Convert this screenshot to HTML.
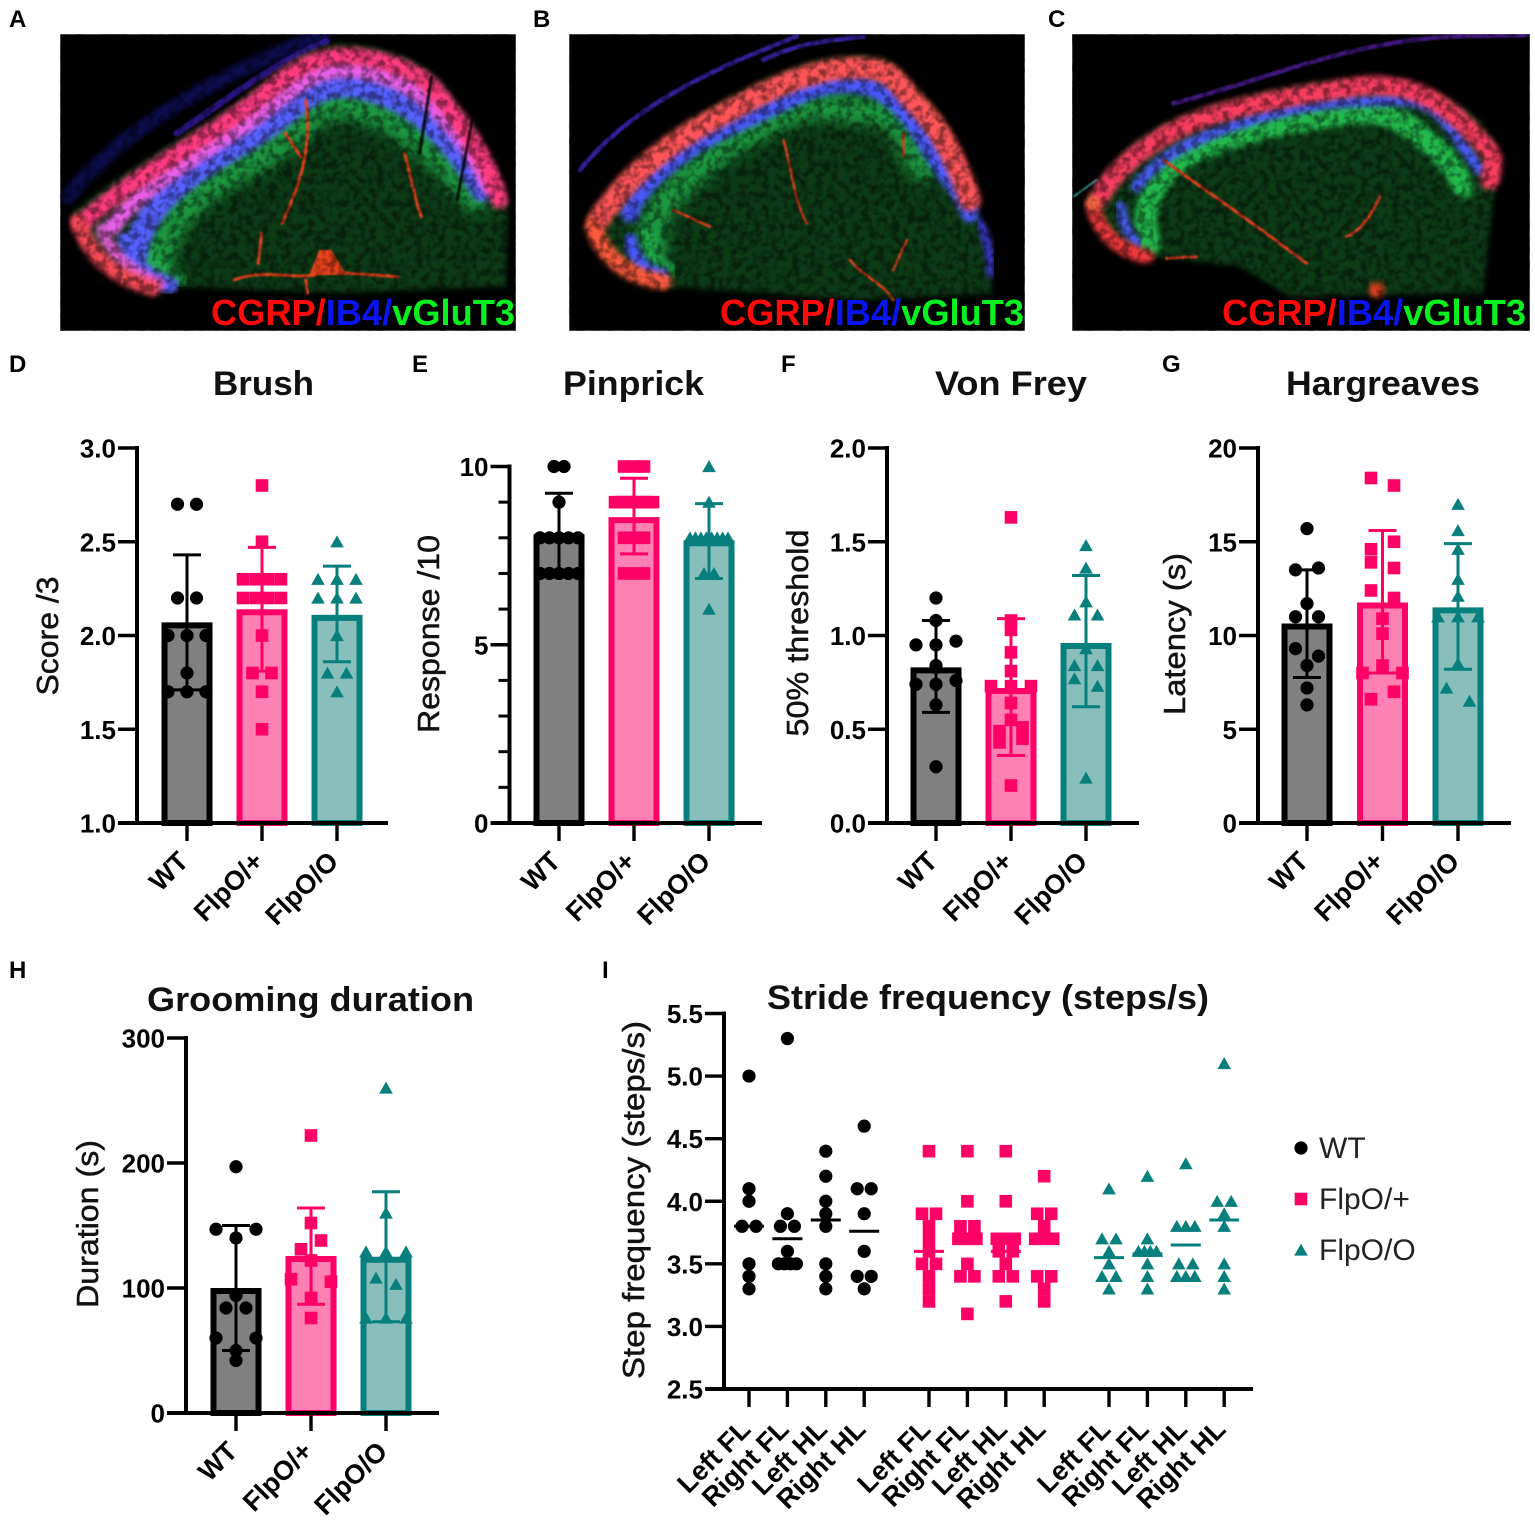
<!DOCTYPE html>
<html lang="en">
<head>
<meta charset="utf-8">
<title>Behavioural and histology figure</title>
<style>
html,body{margin:0;padding:0;background:#fff}
svg{display:block;font-family:"Liberation Sans",Arial,sans-serif}
</style>
</head>
<body>
<svg id="fig" xmlns="http://www.w3.org/2000/svg" width="1535" height="1528" viewBox="0 0 1535 1528">
<defs>
<filter id="b1" x="-20%" y="-20%" width="140%" height="140%"><feGaussianBlur stdDeviation="2"/></filter>
<filter id="b6" x="-20%" y="-20%" width="140%" height="140%"><feGaussianBlur stdDeviation="9"/></filter>
<filter id="b12" x="-20%" y="-20%" width="140%" height="140%"><feGaussianBlur stdDeviation="18"/></filter>
<filter id="speck" x="0" y="0" width="100%" height="100%">
<feTurbulence type="fractalNoise" baseFrequency="0.13" numOctaves="2" seed="4"/>
<feColorMatrix values="0 0 0 0 0  0 0 0 0 0  0 0 0 0 0  3.4 0 0 0 -1.35"/>
</filter>
<clipPath id="clipA"><rect x="60" y="34" width="456" height="297"/></clipPath>
<clipPath id="clipB"><rect x="569" y="34" width="456" height="297"/></clipPath>
<clipPath id="clipC"><rect x="1072" y="34" width="458" height="297"/></clipPath>
</defs>
<rect width="1535" height="1528" fill="#fff"/>

<g clip-path="url(#clipA)">
<rect x="60" y="34" width="456" height="297" fill="#000" stroke="#999"/>
<g transform="scale(0.3398,0.3333)" fill="none" stroke-linecap="round" stroke-linejoin="round">
<path d="M200,590 C350,400 600,240 950,105" stroke="#2222c8" stroke-width="44" opacity=".4" filter="url(#b6)"/>
<path d="M520,400 C640,320 800,190 960,125" stroke="#4424d8" stroke-width="20" opacity=".6" filter="url(#b1)"/>
<path d="M210,640 C350,520 500,440 650,340 S850,170 950,140 S1230,170 1290,240 S1450,450 1495,620 L1490,860 L1000,880 L520,860 C400,860 280,790 210,640Z" fill="#0a3a12" filter="url(#b6)"/>
<path d="M460,810 C470,660 590,560 740,480 S890,340 960,320 S1140,340 1200,390 S1310,480 1400,590" stroke="#20b850" stroke-width="90" opacity=".75" filter="url(#b12)"/>
<path d="M440,740 C440,790 470,820 530,840" stroke="#20b850" stroke-width="40" opacity=".7" filter="url(#b6)"/>
<path d="M400,760 C420,610 560,520 710,430 S880,290 960,265 S1160,285 1230,340 S1350,450 1420,570" stroke="#5560ff" stroke-width="70" filter="url(#b6)"/>
<path d="M370,720 C380,780 420,830 500,855" stroke="#5560ff" stroke-width="50" filter="url(#b6)"/>
<path d="M330,680 C410,570 540,490 680,400 S870,240 960,215 S1190,235 1255,300 S1390,440 1440,560" stroke="#e860e8" stroke-width="52" filter="url(#b6)"/>
<path d="M240,670 C360,560 510,470 660,370 S850,200 955,175 S1220,200 1275,265 S1430,460 1470,600" stroke="#ff3a80" stroke-width="52" filter="url(#b6)"/>
<path d="M300,690 C330,770 390,820 470,850" stroke="#e860d8" stroke-width="36" filter="url(#b6)"/>
<path d="M230,665 C260,760 330,830 450,865" stroke="#f84a58" stroke-width="46" filter="url(#b6)"/>
<path d="M900,300 C920,450 880,560 830,670 M690,840 C780,800 880,850 960,815 L1170,830 M770,700 L760,790 M900,840 L905,880 M840,400 L885,470 M1190,460 C1210,530 1220,600 1240,650" stroke="#e8421c" stroke-width="9" filter="url(#b1)"/>
<polygon points="940,750 975,750 1020,825 910,825" fill="#e8421c" filter="url(#b1)"/>
<path d="M1270,230 L1235,460 M1390,360 L1345,600" stroke="#000" stroke-width="9" opacity=".8" filter="url(#b1)"/>
</g>
<rect x="60" y="34" width="456" height="297" filter="url(#speck)" opacity=".42"/>
</g>
<text x="211" y="325" font-size="36" font-weight="700" textLength="304" lengthAdjust="spacingAndGlyphs"><tspan fill="#ff0a0a">CGRP/</tspan><tspan fill="#0a14f0">IB4/</tspan><tspan fill="#08f020">vGluT3</tspan></text>

<g clip-path="url(#clipB)">
<rect x="569" y="34" width="456" height="297" fill="#000" stroke="#999"/>
<g transform="translate(530,0) scale(0.3333,0.3333)" fill="none" stroke-linecap="round" stroke-linejoin="round">
<path d="M150,510 C300,320 560,200 800,110 M700,180 C800,130 900,120 1000,110" stroke="#4a2ad0" stroke-width="14" opacity=".75" filter="url(#b1)"/>
<path d="M175,660 C250,550 380,420 520,340 S800,180 950,170 S1100,210 1180,290 S1300,500 1340,620 L1390,880 L1000,900 L400,860 C280,830 200,760 175,660Z" fill="#0a3a12" filter="url(#b6)"/>
<path d="M370,740 C340,640 470,510 650,400 S850,320 1000,330 S1100,400 1180,500" stroke="#20b850" stroke-width="85" opacity=".75" filter="url(#b12)"/>
<path d="M350,700 C350,760 380,800 420,810" stroke="#20b850" stroke-width="50" opacity=".7" filter="url(#b6)"/>
<path d="M300,640 C320,550 480,430 620,370 S850,250 950,250 S1120,310 1190,430 S1290,560 1320,640" stroke="#4a58ff" stroke-width="54" filter="url(#b6)"/>
<path d="M300,720 C310,780 350,820 400,825" stroke="#4a58ff" stroke-width="40" filter="url(#b6)"/>
<path d="M205,660 C285,540 400,440 530,370 S800,215 950,205 S1090,245 1165,320 S1285,500 1320,600" stroke="#ff5458" stroke-width="66" filter="url(#b6)"/>
<path d="M190,680 C220,770 290,830 400,845" stroke="#ff5a3c" stroke-width="50" filter="url(#b6)"/>
<path d="M1350,670 C1370,720 1385,760 1385,820" stroke="#3c3cd8" stroke-width="26" filter="url(#b6)"/>
<path d="M760,420 C790,520 790,600 830,670 M430,630 L540,680 M960,780 C1000,830 1060,850 1090,900 M1130,720 L1090,810 M1120,400 L1120,470" stroke="#d8401e" stroke-width="8" filter="url(#b1)"/>
</g>
<rect x="569" y="34" width="456" height="297" filter="url(#speck)" opacity=".42"/>
</g>
<text x="720" y="325" font-size="36" font-weight="700" textLength="304" lengthAdjust="spacingAndGlyphs"><tspan fill="#ff0a0a">CGRP/</tspan><tspan fill="#0a14f0">IB4/</tspan><tspan fill="#08f020">vGluT3</tspan></text>

<g clip-path="url(#clipC)">
<rect x="1072" y="34" width="458" height="297" fill="#000" stroke="#999"/>
<g transform="translate(1040,0) scale(0.3333,0.3333)" fill="none" stroke-linecap="round" stroke-linejoin="round">
<path d="M400,310 C600,260 800,180 1000,140 S1300,110 1460,105" stroke="#5a22b0" stroke-width="14" opacity=".7" filter="url(#b1)"/>
<path d="M100,590 L170,540" stroke="#3aa0a0" stroke-width="6" filter="url(#b1)"/>
<path d="M140,600 C220,480 300,390 450,340 S800,240 950,240 S1200,270 1290,340 S1370,480 1365,560 L1330,880 L750,890 L600,800 L340,770 C220,760 170,690 140,600Z" fill="#0a3a12" filter="url(#b6)"/>
<path d="M330,730 C290,620 350,500 500,440 S750,370 900,345 S1100,370 1170,430 S1250,520 1270,560" stroke="#28d056" stroke-width="66" opacity=".85" filter="url(#b6)"/>
<path d="M290,560 C340,490 420,430 600,370 S900,305 1050,300 S1210,360 1320,510" stroke="#4a5cf8" stroke-width="34" filter="url(#b6)"/>
<path d="M240,620 C250,680 270,710 295,730" stroke="#4a5cf8" stroke-width="30" filter="url(#b6)"/>
<path d="M180,590 C230,500 330,420 450,370 S800,280 950,260 S1200,300 1290,390 S1360,480 1350,540" stroke="#f83e5e" stroke-width="58" filter="url(#b6)"/>
<path d="M160,620 C175,690 230,750 320,770" stroke="#f0383c" stroke-width="44" filter="url(#b6)"/>
<path d="M370,480 C480,560 600,640 800,790 M920,710 C970,690 1000,630 1020,590 M380,775 L470,770" stroke="#e0401e" stroke-width="9" filter="url(#b1)"/>
<circle cx="1010" cy="870" r="24" fill="#e0401e" filter="url(#b6)"/>
<circle cx="160" cy="610" r="22" fill="#ff6a4a" filter="url(#b6)"/>
</g>
<rect x="1072" y="34" width="458" height="297" filter="url(#speck)" opacity=".42"/>
</g>
<text x="1222" y="325" font-size="36" font-weight="700" textLength="304" lengthAdjust="spacingAndGlyphs"><tspan fill="#ff0a0a">CGRP/</tspan><tspan fill="#0a14f0">IB4/</tspan><tspan fill="#08f020">vGluT3</tspan></text>

<g font-size="24" font-weight="700" fill="#000">
<text x="9" y="27">A</text>
<text x="533" y="27">B</text>
<text x="1048" y="27">C</text>
<text x="9" y="372">D</text>
<text x="412" y="372">E</text>
<text x="781" y="372">F</text>
<text x="1162" y="372">G</text>
<text x="9" y="978">H</text>
<text x="602" y="978">I</text>
</g>
<g id="charts"></g>
</svg>

<script>
// ---------- shared categories ----------
const groupLabels = ['WT', 'FlpO/+', 'FlpO/O'];
const legendLabels = ['WT', 'FlpO/+', 'FlpO/O'];
const limbLabels = ['Left FL', 'Right FL', 'Left HL', 'Right HL'];

// ---------- D: Brush ----------
const brushTicks = ['1.0', '1.5', '2.0', '2.5', '3.0'];
const brushMeans = [2.07, 2.14, 2.11];
const brushUpper = [2.43, 2.47, 2.37];
const brushLower = [1.71, 1.81, 1.86];
const brushWT = [2.7, 2.7, 2.2, 2.2, 2.0, 2.0, 2.0, 1.8, 1.7, 1.7, 1.7];
const brushHet = [2.8, 2.5, 2.3, 2.3, 2.3, 2.3, 2.2, 2.2, 2.2, 2.2, 2.0, 1.8, 1.8, 1.7, 1.5];
const brushHom = [2.5, 2.3, 2.3, 2.3, 2.2, 2.2, 2.2, 2.0, 1.8, 1.8, 1.7];

// ---------- E: Pinprick ----------
const pinTicks = ['0', '5', '10'];
const pinMinorTicks = [1, 2, 3, 4, 6, 7, 8, 9];
const pinMeans = [8.1, 8.58, 7.93];
const pinUpper = [9.25, 9.67, 8.96];
const pinLower = [6.9, 7.55, 6.86];
const pinWT = [10, 10, 9, 8, 8, 8, 8, 8, 7, 7, 7, 7, 7];
const pinHet = [10, 10, 10, 9, 9, 9, 9, 9, 9, 9, 9, 8, 8, 8, 7, 7, 7];
const pinHom = [10, 9, 8, 8, 8, 8, 8, 8, 8, 8, 7, 7, 6];

// ---------- F: Von Frey ----------
const frey_Ticks = ['0.0', '0.5', '1.0', '1.5', '2.0'];
const freyMeans = [0.83, 0.72, 0.96];
const freyUpper = [1.08, 1.09, 1.32];
const freyLower = [0.59, 0.36, 0.62];
const freyWT = [1.2, 1.08, 0.95, 0.95, 0.97, 0.84, 0.74, 0.74, 0.76, 0.63, 0.3];
const freyHet = [1.63, 1.08, 1.03, 0.91, 0.81, 0.73, 0.73, 0.73, 0.64, 0.55, 0.49, 0.51, 0.43, 0.45, 0.2];
const freyHom = [1.48, 1.36, 1.18, 1.11, 1.11, 0.93, 0.84, 0.84, 0.77, 0.73, 0.24];

// ---------- G: Hargreaves ----------
const hargTicks = ['0', '5', '10', '15', '20'];
const hargMeans = [10.64, 11.76, 11.5];
const hargUpper = [13.5, 15.6, 14.9];
const hargLower = [7.76, 8.0, 8.2];
const hargWT = [15.7, 13.5, 13.6, 11.7, 11, 11, 9.3, 8.9, 8.4, 7.2, 6.3];
const hargHet = [18.4, 18.0, 14.6, 15.0, 13.9, 13.6, 12.4, 12.0, 10.9, 10.1, 8, 8.4, 8, 6.6, 7];
const hargHom = [17, 15.6, 14.6, 13, 12.1, 11, 11, 11, 8.5, 7.2, 6.5];

// ---------- H: Grooming ----------
const groomTicks = ['0', '100', '200', '300'];
const groomMeans = [100, 125.6, 125];
const groomUpper = [150, 164, 177];
const groomLower = [50, 87, 73];
const groomWT = [197, 147, 140, 147, 94, 84, 84, 60, 50, 60, 42];
const groomHet = [222, 152, 131, 138, 122, 107, 92, 105, 76];
const groomHom = [260, 160, 129, 129, 129, 108, 103, 76, 76, 76];

// ---------- I: Stride frequency ----------
const strideTicks = ['2.5', '3.0', '3.5', '4.0', '4.5', '5.0', '5.5'];
const strideWTLeftFL = [5.0, 4.1, 4.0, 3.8, 3.8, 3.5, 3.4, 3.3];
const strideWTRightFL = [5.3, 3.9, 3.8, 3.8, 3.6, 3.5, 3.5, 3.5, 3.5];
const strideWTLeftHL = [4.4, 4.2, 4.0, 3.9, 3.8, 3.5, 3.4, 3.3];
const strideWTRightHL = [4.6, 4.1, 4.1, 3.9, 3.6, 3.4, 3.4, 3.3];
const strideHetLeftFL = [4.4, 3.9, 3.9, 3.8, 3.7, 3.6, 3.5, 3.5, 3.4, 3.3, 3.2];
const strideHetRightFL = [4.4, 4.0, 3.8, 3.8, 3.7, 3.7, 3.7, 3.5, 3.4, 3.4, 3.1];
const strideHetLeftHL = [4.4, 4.0, 3.7, 3.7, 3.7, 3.6, 3.6, 3.5, 3.4, 3.4, 3.2];
const strideHetRightHL = [4.2, 3.9, 3.9, 3.8, 3.7, 3.7, 3.7, 3.4, 3.4, 3.3, 3.2];
const strideHomLeftFL = [4.1, 3.7, 3.7, 3.6, 3.5, 3.4, 3.4, 3.3];
const strideHomRightFL = [4.2, 3.7, 3.6, 3.6, 3.6, 3.6, 3.5, 3.4, 3.3];
const strideHomLeftHL = [4.3, 3.8, 3.8, 3.8, 3.5, 3.5, 3.4, 3.4, 3.4];
const strideHomRightHL = [5.1, 4.0, 4.0, 3.9, 3.8, 3.5, 3.4, 3.3];
const strideWTMeans = [3.8, 3.7, 3.85, 3.76];
const strideHetMeans = [3.6, 3.7, 3.6, 3.7];
const strideHomMeans = [3.55, 3.58, 3.65, 3.85];

// ---------- helpers ----------
const NS = 'http://www.w3.org/2000/svg';
const root = document.getElementById('charts');
const strokeColors = ['#000000', '#ff0066', '#067f7d'];
const fillColors = ['#808080', '#ff80b2', '#88bfbd'];
const markerKinds = ['circle', 'square', 'triangle'];

function mk(tag, attrs, parent, text) {
  const el = document.createElementNS(NS, tag);
  for (const k in attrs) el.setAttribute(k, attrs[k]);
  if (text !== undefined) el.textContent = text;
  parent.appendChild(el);
  return el;
}

function drawMarker(kind, cx, cy, color, parent) {
  let el;
  if (kind === 'circle') {
    el = mk('circle', {cx: cx, cy: cy, r: 6.6, fill: color}, parent);
  } else if (kind === 'square') {
    el = mk('rect', {x: cx - 6.3, y: cy - 6.3, width: 12.6, height: 12.6, fill: color}, parent);
  } else {
    el = mk('polygon', {points: (cx - 6.8) + ',' + (cy + 5.6) + ' ' + (cx + 6.8) + ',' + (cy + 5.6) + ' ' + cx + ',' + (cy - 6.4), fill: color}, parent);
  }
  
  
  return el;
}

// values sharing a bin are spread side by side, in array order
function swarmOffsets(values, binWidth, spacing, spread) {
  const bins = {};
  values.forEach(function (v, i) {
    const key = Math.round(v / binWidth + 1e-9);
    (bins[key] = bins[key] || []).push(i);
  });
  const offsets = new Array(values.length).fill(0);
  Object.keys(bins).forEach(function (key) {
    const members = bins[key];
    const n = members.length;
    const step = n > 1 ? Math.min(spacing, spread / (n - 1)) : 0;
    members.forEach(function (idx, j) { offsets[idx] = (j - (n - 1) / 2) * step; });
  });
  return offsets;
}

function drawYAxis(g, f, labels, minorValues) {
  const line = mk('line', {x1: f.axisX, x2: f.axisX, y1: f.y(f.max) - 2, y2: f.y0 + 2, stroke: '#000', 'stroke-width': 4}, g);
  
  
  labels.forEach(function (lab) {
    const yy = f.y(parseFloat(lab));
    const tick = mk('line', {x1: f.axisX - 19, x2: f.axisX, y1: yy, y2: yy, stroke: '#000', 'stroke-width': 3.4}, g);
    
    
    const t = mk('text', {x: f.axisX - 21, y: yy + 9.5, 'text-anchor': 'end', 'font-size': 26, 'font-weight': 700}, g, lab);
    
    
  });
  (minorValues || []).forEach(function (v) {
    const yy = f.y(v);
    const tick = mk('line', {x1: f.axisX - 11, x2: f.axisX, y1: yy, y2: yy, stroke: '#000', 'stroke-width': 3}, g);
    
    
  });
}

function drawTitle(g, text, cx, y, len) {
  const t = mk('text', {x: cx, y: y, 'text-anchor': 'middle', 'font-size': 34, 'font-weight': 700, textLength: len, lengthAdjust: 'spacingAndGlyphs', fill: '#111'}, g, text);
  
  
}

function drawYTitle(g, text, x, cy, len) {
  const t = mk('text', {x: x, y: cy, transform: 'rotate(-90 ' + x + ' ' + cy + ')', 'text-anchor': 'middle', 'font-size': 31, textLength: len, lengthAdjust: 'spacingAndGlyphs', fill: '#111', stroke: '#111', 'stroke-width': 0.5}, g, text);
  
  
}

function drawBarChart(c) {
  const g = mk('g', {}, root);
  
  
  const f = {
    axisX: c.axisX, y0: c.y0, max: c.max,
    y: function (v) { return c.y0 - (v - c.min) / (c.max - c.min) * (c.y0 - c.y1); }
  };
  const xc = function (i) { return c.firstX + i * c.stepX; };
  groupLabels.forEach(function (lab, i) {
    const cx = xc(i), top = f.y(c.means[i]);
    const bar = mk('rect', {x: cx - 22.5, y: top + 3, width: 45, height: Math.max(0, c.y0 - top - 3), fill: fillColors[i], stroke: strokeColors[i], 'stroke-width': 6}, g);
    
    

    const yU = f.y(c.upper[i]), yL = f.y(c.lower[i]);
    const stem = mk('line', {x1: cx, x2: cx, y1: yU, y2: yL, stroke: strokeColors[i], 'stroke-width': 3}, g);
    
    
    const capU = mk('line', {x1: cx - 14, x2: cx + 14, y1: yU, y2: yU, stroke: strokeColors[i], 'stroke-width': 3}, g);
    
    
    const capL = mk('line', {x1: cx - 14, x2: cx + 14, y1: yL, y2: yL, stroke: strokeColors[i], 'stroke-width': 3}, g);
    
    

    const vals = c.points[i];
    const offs = swarmOffsets(vals, c.bin, c.spacing, c.spread);
    vals.forEach(function (v, k) {
      drawMarker(markerKinds[i], cx + offs[k], f.y(v), strokeColors[i], g);
    });
  });

  drawYAxis(g, f, c.ticks, c.minor);
  const xAxis = mk('line', {x1: c.axisX - 19, x2: c.xEnd, y1: c.y0, y2: c.y0, stroke: '#000', 'stroke-width': 4}, g);
  
  
  groupLabels.forEach(function (lab, i) {
    const cx = xc(i);
    const tick = mk('line', {x1: cx, x2: cx, y1: c.y0, y2: c.y0 + 18, stroke: '#000', 'stroke-width': 3.4}, g);
    
    
    const lx = cx + 3, ly = c.y0 + 40;
    const t = mk('text', {x: lx, y: ly, transform: 'rotate(-45 ' + lx + ' ' + ly + ')', 'text-anchor': 'end', 'font-size': 27, 'font-weight': 700}, g, lab);
    
    
  });
  drawTitle(g, c.title, c.titleX, c.titleY, c.titleLen);
  drawYTitle(g, c.yTitle, c.yTitleX, c.yTitleY, c.yTitleLen);
}

drawBarChart({name: 'brush-chart', title: 'Brush', titleX: 263.5, titleY: 395, titleLen: 101, yTitle: 'Score /3', yTitleX: 58, yTitleY: 636, yTitleLen: 119,
  axisX: 137, y0: 823, y1: 448, min: 1, max: 3, xEnd: 388, firstX: 187, stepX: 75, bin: 0.1, spacing: 19, spread: 38,
  ticks: brushTicks, means: brushMeans, upper: brushUpper, lower: brushLower, points: [brushWT, brushHet, brushHom]});
drawBarChart({name: 'pinprick-chart', title: 'Pinprick', titleX: 633.5, titleY: 395, titleLen: 141, yTitle: 'Response /10', yTitleX: 439, yTitleY: 634, yTitleLen: 198,
  axisX: 509.5, y0: 823, y1: 466.5, min: 0, max: 10, xEnd: 762, firstX: 559, stepX: 75, bin: 0.5, spacing: 10, spread: 38,
  ticks: pinTicks, minor: pinMinorTicks, means: pinMeans, upper: pinUpper, lower: pinLower, points: [pinWT, pinHet, pinHom]});
drawBarChart({name: 'von-frey-chart', title: 'Von Frey', titleX: 1011, titleY: 395, titleLen: 152, yTitle: '50% threshold', yTitleX: 808, yTitleY: 633, yTitleLen: 207,
  axisX: 887, y0: 823, y1: 448, min: 0, max: 2, xEnd: 1139, firstX: 936, stepX: 75, bin: 0.05, spacing: 23, spread: 40,
  ticks: frey_Ticks, means: freyMeans, upper: freyUpper, lower: freyLower, points: [freyWT, freyHet, freyHom]});
drawBarChart({name: 'hargreaves-chart', title: 'Hargreaves', titleX: 1383, titleY: 395, titleLen: 194, yTitle: 'Latency (s)', yTitleX: 1185, yTitleY: 634, yTitleLen: 162,
  axisX: 1258, y0: 823, y1: 448, min: 0, max: 20, xEnd: 1511, firstX: 1307, stepX: 75.5, bin: 1, spacing: 23, spread: 40,
  ticks: hargTicks, means: hargMeans, upper: hargUpper, lower: hargLower, points: [hargWT, hargHet, hargHom]});
drawBarChart({name: 'grooming-chart', title: 'Grooming duration', titleX: 310.5, titleY: 1011, titleLen: 327, yTitle: 'Duration (s)', yTitleX: 98, yTitleY: 1224, yTitleLen: 168,
  axisX: 186, y0: 1413, y1: 1038, min: 0, max: 300, xEnd: 439, firstX: 236, stepX: 75, bin: 20, spacing: 20, spread: 40,
  ticks: groomTicks, means: groomMeans, upper: groomUpper, lower: groomLower, points: [groomWT, groomHet, groomHom]});

// ---------- stride chart ----------
(function () {
  const g = mk('g', {}, root);
  
  
  const y0 = 1389, y1 = 1013.5, axisX = 724;
  const f = {axisX: axisX, y0: y0, max: 5.5, y: function (v) { return y0 - (v - 2.5) / 3 * (y0 - y1); }};
  const groups = [
    {i: 0, x0: 749, data: [strideWTLeftFL, strideWTRightFL, strideWTLeftHL, strideWTRightHL], means: strideWTMeans},
    {i: 1, x0: 929, data: [strideHetLeftFL, strideHetRightFL, strideHetLeftHL, strideHetRightHL], means: strideHetMeans},
    {i: 2, x0: 1109, data: [strideHomLeftFL, strideHomRightFL, strideHomLeftHL, strideHomRightHL], means: strideHomMeans}
  ];
  groups.forEach(function (gr) {
    limbLabels.forEach(function (lab, k) {
      const cx = gr.x0 + k * 38.4;
      const vals = gr.data[k];
      const offs = swarmOffsets(vals, 0.1, 14, 18);
      vals.forEach(function (v, n) {
        drawMarker(markerKinds[gr.i], cx + offs[n], f.y(v), strokeColors[gr.i], g);
      });
      const my = f.y(gr.means[k]);
      const ml = mk('line', {x1: cx - 15, x2: cx + 15, y1: my, y2: my, stroke: strokeColors[gr.i], 'stroke-width': 3}, g);
      
      
      const tick = mk('line', {x1: cx, x2: cx, y1: y0, y2: y0 + 18, stroke: '#000', 'stroke-width': 3.4}, g);
      
      
      const lx = cx + 3, ly = y0 + 42;
      const t = mk('text', {x: lx, y: ly, transform: 'rotate(-45 ' + lx + ' ' + ly + ')', 'text-anchor': 'end', 'font-size': 27, 'font-weight': 700}, g, lab);
      
      
    });
  });
  drawYAxis(g, f, strideTicks);
  const xAxis = mk('line', {x1: axisX - 18, x2: 1253, y1: y0, y2: y0, stroke: '#000', 'stroke-width': 4}, g);
  
  
  drawTitle(g, 'Stride frequency (steps/s)', 988, 1009, 442);
  drawYTitle(g, 'Step frequency (steps/s)', 644, 1200, 358);

  const legendYs = [1148, 1199, 1250];
  legendLabels.forEach(function (lab, i) {
    drawMarker(markerKinds[i], 1301, legendYs[i], strokeColors[i], g);
    const t = mk('text', {x: 1319, y: legendYs[i] + 10, 'font-size': 30, fill: '#222'}, g, lab);
    
    
  });
})();
</script>
</body>
</html>
